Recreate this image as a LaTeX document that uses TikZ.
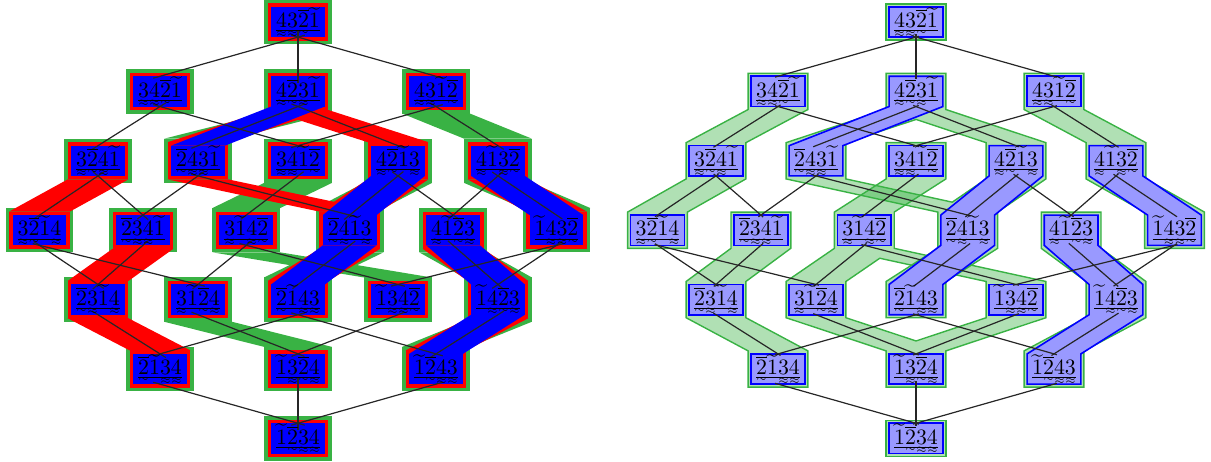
\documentclass[tikz,border=0pt]{standalone}
\usepackage{amsmath}
\definecolor{bandgreen}{RGB}{57,178,68}
\definecolor{lightblue}{RGB}{153,153,255}
\pgfdeclarelayer{green}
\pgfdeclarelayer{red}
\pgfdeclarelayer{blue}
\pgfdeclarelayer{lines}
\pgfsetlayers{green,red,blue,lines,main}

% underlined digit with a small mark close under it
\newcommand{\um}[2]{\vtop{\offinterlineskip\halign{\hfil##\hfil\cr
  $\underline{#1}$\cr\noalign{\kern-0.6pt}$\scriptscriptstyle#2$\cr}}}
% one digit of a permutation, with its marks
\newcommand{\dg}[1]{\ifcase#1\or
  \underline{\widetilde{1}}\or
  \um{\overline{2}}{\sim}\or
  \um{3}{\approx}\or
  \um{4}{\approx}\fi}
\newcommand{\perm}[4]{$\dg#1\dg#2\dg#3\dg#4$}

% corners of a box round a node, pushed out by #2
\newcommand{\mkc}[3]{%
  \coordinate (#1#3tl) at ([shift={(-#2,-#2)}]#1.north west);
  \coordinate (#1#3tr) at ([shift={(#2,-#2)}]#1.north east);
  \coordinate (#1#3br) at ([shift={(#2,#2)}]#1.south east);
  \coordinate (#1#3bl) at ([shift={(-#2,#2)}]#1.south west);}
\newcommand{\boxI}[3]{\path[#1] (#2#3tl) rectangle (#2#3br);}
\newcommand{\strip}[4]{\path[#1] (#2#4bl) -- (#2#4br) -- (#3#4tr) -- (#3#4tl) -- cycle;}
\newcommand{\chainII}[4]{\path[#1] (#2#4tl) -- (#2#4tr) -- (#2#4br) -- (#3#4tr) -- (#3#4br)
  -- (#3#4bl) -- (#3#4tl) -- (#2#4bl) -- cycle;}
\newcommand{\chainIII}[5]{\path[#1] (#2#5tl) -- (#2#5tr) -- (#2#5br) -- (#3#5tr) -- (#3#5br)
  -- (#4#5tr) -- (#4#5br) -- (#4#5bl) -- (#4#5tl) -- (#3#5bl) -- (#3#5tl) -- (#2#5bl) -- cycle;}

\newcommand{\nodelist}{4321/0/0, 3421/-138/1, 4231/0/1, 4312/138/1,
  3241/-200/2, 2431/-100/2, 3412/0/2, 4213/100/2, 4132/200/2,
  3214/-258.5/3, 2341/-155.1/3, 3142/-51.7/3, 2413/51.7/3, 4123/155.1/3, 1432/258.5/3,
  2314/-200/4, 3124/-100/4, 2143/0/4, 1342/100/4, 1423/200/4,
  2134/-138/5, 1324/0/5, 1243/138/5, 1234/0/6}
\newcommand{\edgelist}{4321/3421, 4321/4231, 4321/4312, 3421/3241, 3421/3412,
  4231/2431, 4231/4213, 4312/3412, 4312/4132, 3241/2341, 3241/3214,
  2431/2341, 2431/2413, 3412/3142, 4213/2413, 4213/4123, 4132/1432, 4132/4123,
  3214/2314, 3214/3124, 2341/2314, 3142/1342, 3142/3124, 2413/2143, 4123/1423,
  1432/1342, 1432/1423, 2314/2134, 3124/1324, 2143/1243, 2143/2134, 1342/1324,
  1423/1243, 2134/1234, 1324/1234, 1243/1234}

\begin{document}
\begin{tikzpicture}[x=0.5pt,y=-0.5pt,
  lbl/.style={inner sep=0pt,minimum width=26.5pt,minimum height=14pt,
    font=\fontsize{11}{13}\selectfont},
  gband/.style={fill=bandgreen,fill opacity=0.4,draw=bandgreen,line width=0.7pt},
  bband/.style={fill=lightblue,draw=blue,line width=0.8pt},
  lgreen/.style={fill=bandgreen},
  lred/.style={fill=red},
  lblue/.style={fill=blue},
  coverR/.style={line width=0.6pt,black!85,shorten <=-1.5pt,shorten >=-1.5pt},
  coverL/.style={line width=0.6pt,black!85,shorten <=-3.5pt,shorten >=-3.5pt}]
\useasboundingbox (0,0) rectangle (1211,461);

% both lattices
\foreach \p/\dx/\r in \nodelist {
  \node[lbl] (L\p) at ({298+(\dx)},{22+69.4*\r}) {\expandafter\perm\p};
  \node[lbl] (R\p) at ({916+(\dx)},{22+69.4*\r}) {\expandafter\perm\p};
  \mkc{L\p}{7}{g} \mkc{L\p}{3.5}{r} \mkc{L\p}{0}{b}
  \mkc{R\p}{3}{g} \mkc{R\p}{0}{b}
}

\begin{pgfonlayer}{lines}
\foreach \a/\b in \edgelist {
  \draw[coverL] (L\a.south) -- (L\b.north);
  \draw[coverR] (R\a.south) -- (R\b.north);
}
\end{pgfonlayer}

% left lattice: solid bands
\begin{pgfonlayer}{green}
\foreach \p/\dx/\r in \nodelist {\boxI{lgreen}{L\p}{g}}
\foreach \a/\b in {4231/2431, 4213/2413, 2413/2143, 4312/4132, 4132/1432, 4123/1423,
  1423/1243, 3412/3142, 3142/1342, 3124/1324} {\strip{lgreen}{L\a}{L\b}{g}}
\end{pgfonlayer}
\begin{pgfonlayer}{red}
\foreach \p/\dx/\r in \nodelist {\boxI{lred}{L\p}{r}}
\foreach \a/\b in {3241/3214, 2341/2314, 2314/2134, 4231/2431, 4231/4213, 2431/2413,
  4213/2413, 2413/2143, 4132/1432, 4123/1423, 1423/1243} {\strip{lred}{L\a}{L\b}{r}}
\end{pgfonlayer}
\begin{pgfonlayer}{blue}
\foreach \p/\dx/\r in \nodelist {\boxI{lblue}{L\p}{b}}
\foreach \a/\b in {4231/2431, 4213/2413, 2413/2143, 4132/1432, 4123/1423,
  1423/1243} {\strip{lblue}{L\a}{L\b}{b}}
\end{pgfonlayer}

% right lattice: light bands
\begin{pgfonlayer}{green}
\boxI{gband}{R4321}{g}
\boxI{gband}{R1234}{g}
\chainIII{gband}{R3421}{R3241}{R3214}{g}
\chainIII{gband}{R2341}{R2314}{R2134}{g}
\chainIII{gband}{R4312}{R4132}{R1432}{g}
\chainIII{gband}{R4123}{R1423}{R1243}{g}
\path[gband,even odd rule] (R4231gtl) -- (R4231gtr) -- (R4231gbr) -- (R4213gtr) -- (R4213gbr)
  -- (R2413gtr) -- (R2413gbr) -- (R2143gtr) -- (R2143gbr) -- (R2143gbl) -- (R2143gtl)
  -- (R2413gbl) -- (R2413gtl) -- (R2431gbl) -- (R2431gtl) -- (R4231gbl) -- cycle
  (intersection of R4231gbr--R2431gtr and R4231gbl--R4213gtl) -- (R4213gtl) -- (R4213gbl)
  -- (intersection of R4213gbl--R2413gtl and R2431gbr--R2413gtr) -- (R2431gbr) -- (R2431gtr) -- cycle;
\path[gband,even odd rule] (R3412gtl) -- (R3412gtr) -- (R3412gbr) -- (R3142gtr) -- (R3142gbr)
  -- (R1342gtr) -- (R1342gbr) -- (R1324gtr) -- (R1324gbr) -- (R1324gbl) -- (R1324gtl)
  -- (R3124gbl) -- (R3124gtl) -- (R3142gbl) -- (R3142gtl) -- (R3412gbl) -- cycle
  (intersection of R3142gbr--R3124gtr and R3142gbl--R1342gtl) -- (R1342gtl) -- (R1342gbl)
  -- (intersection of R1342gbl--R1324gtl and R3124gbr--R1324gtr) -- (R3124gbr) -- (R3124gtr) -- cycle;
\end{pgfonlayer}
\begin{pgfonlayer}{blue}
\foreach \p in {4321,3421,4312,3241,3412,3214,2341,3142,2314,3124,1342,2134,1324,1234}
  {\boxI{bband}{R\p}{b}}
\chainII{bband}{R4231}{R2431}{b}
\chainIII{bband}{R4213}{R2413}{R2143}{b}
\chainII{bband}{R4132}{R1432}{b}
\chainIII{bband}{R4123}{R1423}{R1243}{b}
\end{pgfonlayer}
\end{tikzpicture}
\end{document}
